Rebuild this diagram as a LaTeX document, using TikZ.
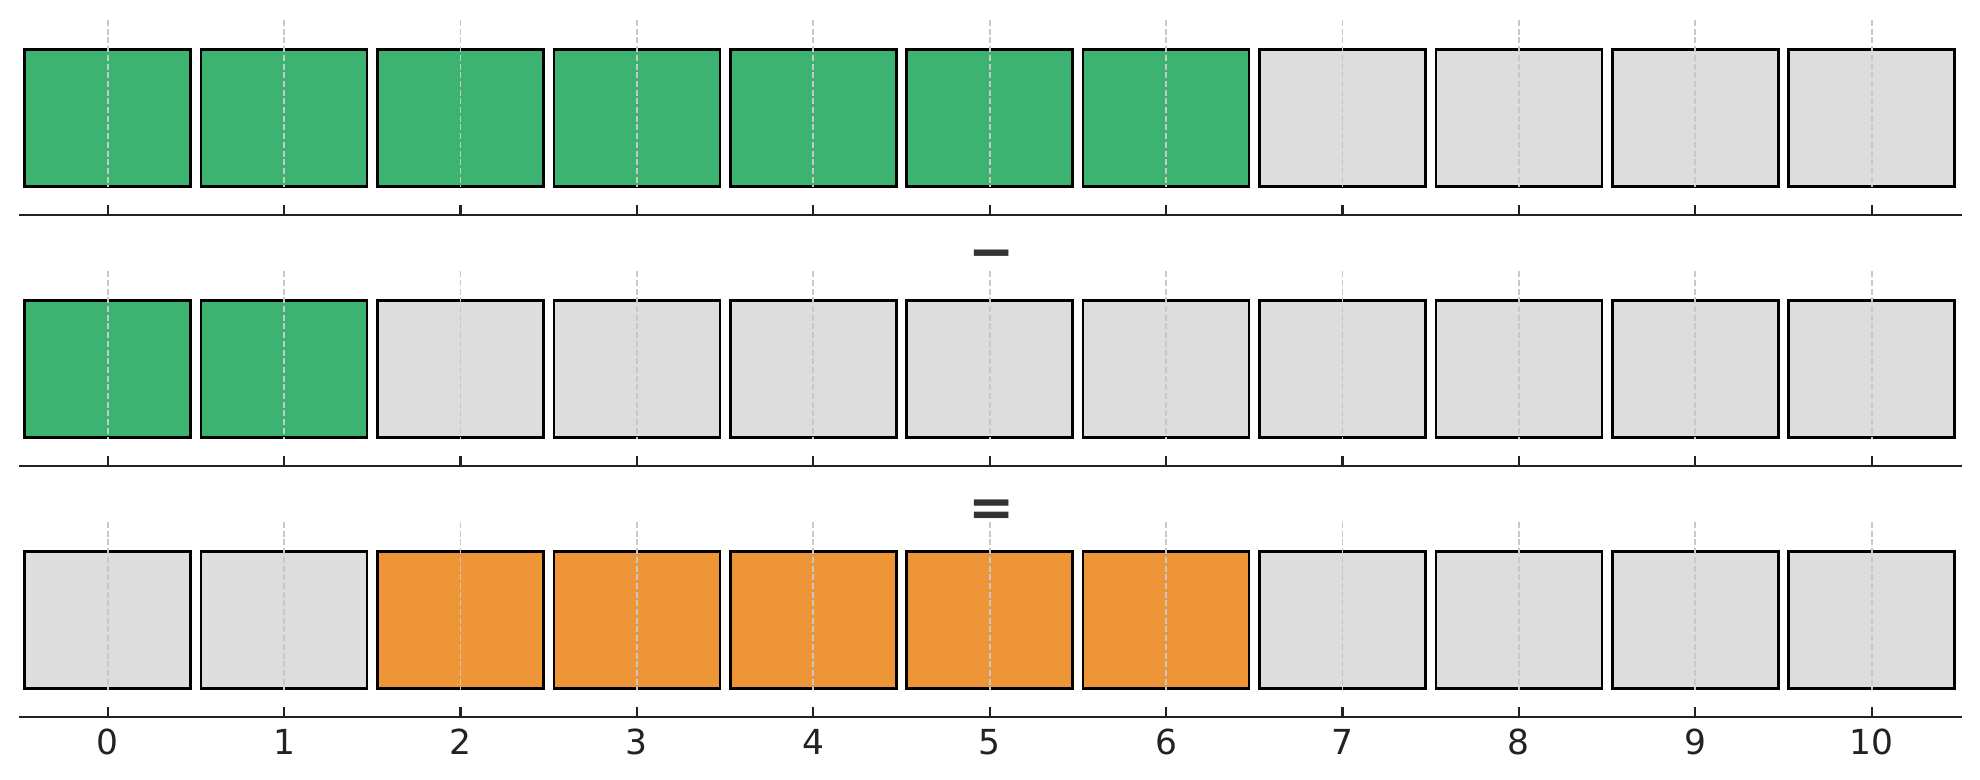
\documentclass[tikz,border=0pt]{standalone}
\usepackage{fontspec}
\setmainfont{DejaVu Sans}
\definecolor{cgreen}{HTML}{3CB371}
\definecolor{corange}{HTML}{EE9537}
\definecolor{cgray}{HTML}{DDDDDD}
\definecolor{cgrid}{HTML}{C8C8C8}
\definecolor{caxis}{HTML}{222222}
\definecolor{csign}{HTML}{333333}
\tikzset{
  cell/.style={draw=black, line width=0.75pt, inner sep=0pt, minimum width=1.658cm, minimum height=1.366cm},
  gridln/.style={draw=cgrid, line width=0.5pt, dash pattern=on 0.06cm off 0.027cm},
  axisln/.style={draw=caxis, line width=0.6pt},
  tickln/.style={draw=caxis, line width=0.6pt},
  ticklbl/.style={text=caxis, font=\fontsize{9.8}{11}\selectfont, anchor=base, inner sep=0pt},
  signlbl/.style={text=csign, font=\fontsize{15.7}{18}\selectfont\bfseries, anchor=base, inner sep=0pt}
}
\begin{document}
\begin{tikzpicture}[x=0.01cm,y=-0.01cm]
\useasboundingbox (0,0) rectangle (1980,780);
% row offsets: 0, 251.2, 502
\foreach \r/\off in {1/0,2/251.2,3/502}{
  \coordinate (al\r) at (19.3,215+\off);
  \coordinate (ar\r) at (1961.7,215+\off);
  \draw[axisln] (al\r) -- (ar\r);
  \foreach \i in {0,...,10}{
    \pgfmathsetmacro{\xx}{107.7+176.4*\i}
    \coordinate (t\r-\i) at (\xx,205+\off);
    \coordinate (u\r-\i) at (\xx,215+\off);
    \draw[tickln] (t\r-\i) -- (u\r-\i);
  }
}
% row 1: 0..6 green
\foreach \i in {0,...,10}{
  \pgfmathsetmacro{\xx}{107.7+176.4*\i}
  \ifnum\i<7 \def\fc{cgreen}\else\def\fc{cgray}\fi
  \node[cell, fill=\fc] (a\i) at (\xx,118) {};
}
% row 2: 0..1 green
\foreach \i in {0,...,10}{
  \pgfmathsetmacro{\xx}{107.7+176.4*\i}
  \ifnum\i<2 \def\fc{cgreen}\else\def\fc{cgray}\fi
  \node[cell, fill=\fc] (b\i) at (\xx,369) {};
}
% row 3: 2..6 orange
\foreach \i in {0,...,10}{
  \pgfmathsetmacro{\xx}{107.7+176.4*\i}
  \def\fc{cgray}
  \ifnum\i>1 \ifnum\i<7 \def\fc{corange}\fi\fi
  \node[cell, fill=\fc] (c\i) at (\xx,620) {};
}
% gridlines
\foreach \r/\off in {1/0,2/251.2,3/502}{
  \foreach \i in {0,...,10}{
    \pgfmathsetmacro{\xx}{107.7+176.4*\i}
    \coordinate (g\r-\i) at (\xx,20+\off);
    \coordinate (h\r-\i) at (\xx,187.5+\off);
    \draw[gridln] (g\r-\i) -- (h\r-\i);
  }
}
% tick labels
\foreach \i in {0,...,10}{
  \pgfmathsetmacro{\xx}{107.7+176.4*\i}
  \node[ticklbl] (l\i) at (\xx,754) {\i};
}
% operators
\node[signlbl] (minus) at (991.5,271) {−};
\node[signlbl] (equals) at (991.5,527) {=};
\end{tikzpicture}
\end{document}
